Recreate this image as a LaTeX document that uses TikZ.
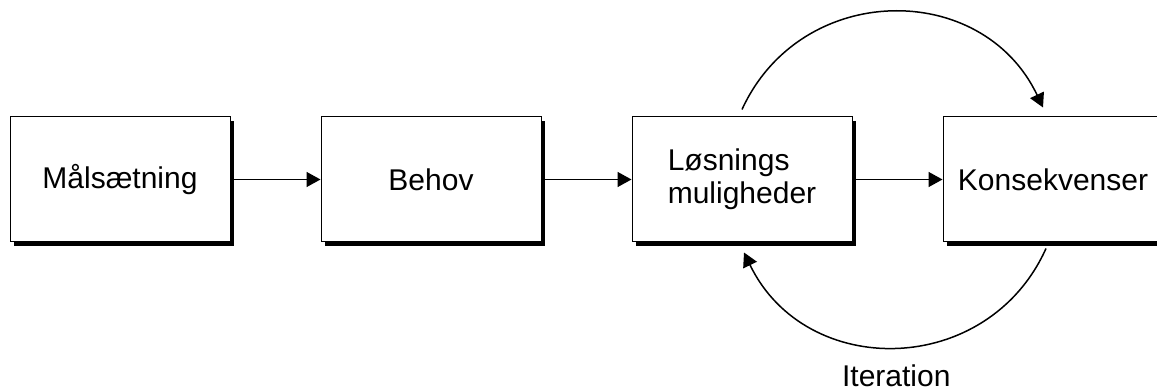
\documentclass[tikz,border=0pt]{standalone}
\usepackage{fontspec}
\setmainfont{Liberation Sans}
\usetikzlibrary{arrows.meta,shadows,positioning}

\tikzset{
  box/.style={draw, line width=0.5pt, fill=white, minimum width=110pt, minimum height=62.5pt,
    inner sep=0pt, drop shadow={opacity=1, fill=black, shadow xshift=2pt, shadow yshift=-2pt}},
  arr/.style={line width=0.75pt, -{Triangle[length=7pt,width=7.5pt]}},
}

\begin{document}
\begin{tikzpicture}[x=1pt,y=1pt,font=\fontsize{15}{16.5}\selectfont]
    \clip (0,0) rectangle (578.5,195);

    \node[box] (maal) at (60,105.25) {Målsætning};
    \node[box] (behov) at (215.5,105.25) {Behov};
    \node[box,align=left] (loes) at (371,105.25) {Løsnings\\muligheder};
    \node[box] (kons) at (526.5,105.25) {Konsekvenser};

    \foreach \a/\b in {maal/behov,behov/loes,loes/kons}
    {
      \draw[arr] (\a) -- (\b);
    };

    % iteration loop
    \draw[arr] ([yshift=3.5pt]loes.north) to[bend left=65, looseness=1.2] ([xshift=-5pt,yshift=4.5pt]kons.north);
    \draw[arr] ([xshift=-3.5pt,yshift=-3pt]kons.south) to[bend left=65, looseness=1.2]
      node[pos=.5, below=5pt] (iter) {Iteration} ([xshift=1pt,yshift=-5pt]loes.south);
\end{tikzpicture}
\end{document}
